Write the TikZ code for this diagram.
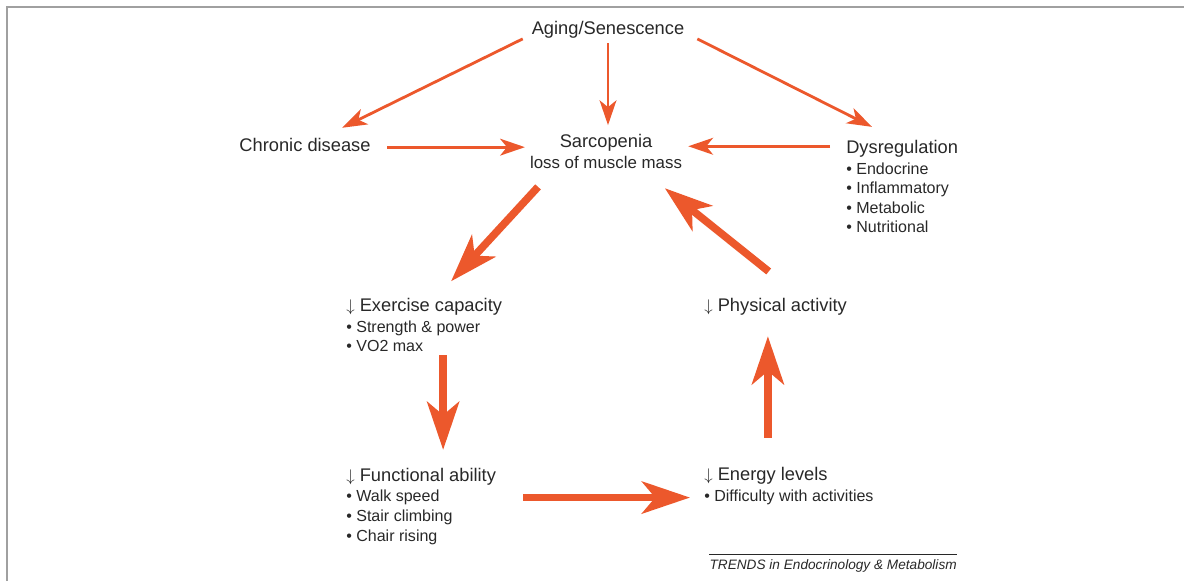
\documentclass[tikz,border=0pt]{standalone}
\usepackage{fontspec}
\setmainfont{Liberation Sans}
\usetikzlibrary{arrows.meta}
\definecolor{arrowred}{RGB}{236,88,44}
\definecolor{textdark}{RGB}{40,40,40}
\definecolor{framegray}{RGB}{160,160,160}

\begin{document}
\begin{tikzpicture}[x=0.025cm,y=-0.025cm,
    big/.style={inner sep=0pt,text=textdark,font=\fontsize{13}{15}\selectfont},
    small/.style={inner sep=0pt,text=textdark,font=\fontsize{11.4}{13}\selectfont},
    thinarr/.style={draw=arrowred,line width=2pt,
        -{Stealth[length=0.62cm,width=0.42cm,inset=0.17cm]}},
    thickarr/.style={draw=arrowred,line width=5.4pt,
        -{Stealth[length=1.2cm,width=0.8cm,inset=0.33cm]}}]
    \useasboundingbox (0,0) rectangle (1184,581);
    \draw[framegray,line width=1.6pt] (7,581) -- (7,7) -- (1184,7);

    % Top row
    \node[big,anchor=base] (aging) at (608,34.8) {Aging/Senescence};
    \node[big,anchor=base] (chronic) at (305,151.7) {Chronic disease};
    \node[big,anchor=base] (sarc) at (606,147.5) {Sarcopenia};
    \node[inner sep=0pt,text=textdark,font=\fontsize{12}{14}\selectfont,
        anchor=base] (sarcsub) at (606,168.5) {loss of muscle mass};
    \node[big,anchor=base west] (dysreg) at (846,153) {Dysregulation};
    \node[small,anchor=base west] (endo) at (846,174.7) {\textbullet\ Endocrine};
    \node[small,anchor=base west] (inflam) at (846,193.7) {\textbullet\ Inflammatory};
    \node[small,anchor=base west] (metab) at (846,213.7) {\textbullet\ Metabolic};
    \node[small,anchor=base west] (nutri) at (846,232.7) {\textbullet\ Nutritional};

    % The cycle
    \node[big,anchor=base west] (excap) at (346,311)
        {$\downarrow$ Exercise capacity};
    \node[small,anchor=base west] (strength) at (346,332)
        {\textbullet\ Strength \& power};
    \node[small,anchor=base west] (vo2) at (346,351.7) {\textbullet\ VO2 max};
    \node[big,anchor=base west] (physact) at (704,311)
        {$\downarrow$ Physical activity};
    \node[big,anchor=base west] (funcab) at (346,481)
        {$\downarrow$ Functional ability};
    \node[small,anchor=base west] (walk) at (346,501.7) {\textbullet\ Walk speed};
    \node[small,anchor=base west] (stair) at (346,521.7)
        {\textbullet\ Stair climbing};
    \node[small,anchor=base west] (chair) at (346,541.7) {\textbullet\ Chair rising};
    \node[big,anchor=base west] (energy) at (704,480)
        {$\downarrow$ Energy levels};
    \node[small,anchor=base west] (difficulty) at (704,501.7)
        {\textbullet\ Difficulty with activities};

    % Source
    \node[inner sep=0pt,anchor=base east,text=textdark,
        font=\fontsize{9.7}{11}\selectfont\itshape] (trends) at (957,569)
        {TRENDS in Endocrinology \& Metabolism};
    \draw[textdark,line width=0.8pt] ([yshift=0.1cm]trends.north west)
        -- ([yshift=0.1cm]trends.north east);

    % Arrows from the top
    \draw[thinarr,shorten >=0.59cm] ([xshift=-0.22cm]aging.south west)
        -- ([xshift=0.4cm]chronic.north);
    \draw[thinarr,shorten <=0.11cm,shorten >=0.22cm] (aging.south)
        -- (aging.south |- sarc.north);
    \draw[thinarr,shorten >=0.7cm] ([xshift=0.32cm]aging.south east)
        -- ([xshift=-0.13cm]dysreg.north);
    \draw[thinarr,shorten <=0.41cm,shorten >=0.12cm] ([yshift=-0.05cm]chronic.east)
        -- ([yshift=-0.05cm]chronic.east -| sarcsub.west);
    \draw[thinarr,shorten <=0.4cm] ([yshift=0.05cm]dysreg.west)
        -- ([xshift=0.15cm,yshift=0.05cm]dysreg.west -| sarcsub.east);

    % Arrows round the cycle
    \draw[thickarr,shorten <=0.61cm,shorten >=0.55cm]
        ([xshift=0.62cm]sarcsub.south west) -- ([xshift=0.3cm]excap.north);
    \draw[thickarr,shorten <=0.08cm,shorten >=0.44cm]
        ([xshift=0.55cm]vo2.south -| funcab.north) -- ([xshift=0.55cm]funcab.north);
    \draw[thickarr,shorten <=2.08cm,shorten >=0.35cm]
        (walk.east) -- (walk.east -| difficulty.west);
    \draw[thickarr,shorten <=0.72cm,shorten >=0.53cm]
        ([xshift=0.05cm]energy.north) -- ([xshift=0.05cm]energy.north |- physact.south);
    \draw[thickarr,shorten <=1.04cm,shorten >=0.77cm]
        ([xshift=0.64cm]physact.north) -- ([xshift=0.87cm]sarcsub.south);
\end{tikzpicture}
\end{document}
